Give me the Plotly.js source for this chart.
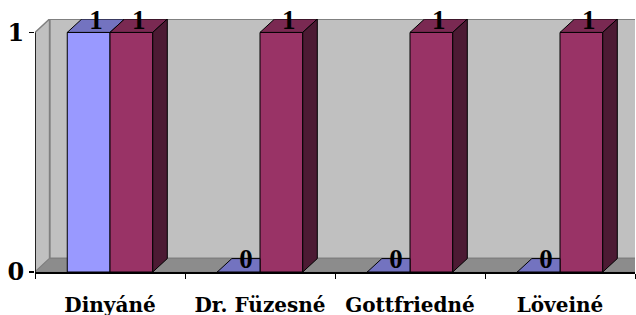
<!DOCTYPE html>
<html>
<head>
<meta charset="utf-8">
<script src="https://cdn.plot.ly/plotly-3.0.1.min.js"></script>
<style>html,body{margin:0;padding:0;background:#fff;}#chart{width:636px;height:315px;}</style>
</head>
<body>
<div id="chart"></div>
<script>
// ---- data ----
const categories = ['Dinyáné', 'Dr. Füzesné', 'Gottfriedné', 'Löveiné'];
const seriesBlue = [1, 0, 0, 0];
const seriesRed = [1, 1, 1, 1];
const yTickVals = [0, 1];
const yTickText = ['0', '1'];

// ---- styling / geometry constants ----
const W = 0.285;     // bar width (category units)
const DX = 0.097;    // 3D depth offset in x (category units)
const DY = 0.056;    // 3D depth offset in y (value units)
const LABEL_DY = 0.044;
const yMax = Math.max(...seriesBlue, ...seriesRed);
const xs = categories.map((c, i) => i);

const col = {
  blueFront: '#9999FF', blueTop: '#7373C0',
  redFront: '#993366', redTop: '#7A2952', redSide: '#4C1A33',
  wall: '#C0C0C0', floor: '#8C8C8C', edge: '#808080'
};

function polys(list) {
  const x = [], y = [];
  list.forEach(p => { p.forEach(pt => { x.push(pt[0]); y.push(pt[1]); }); x.push(p[0][0]); y.push(p[0][1]); x.push(null); y.push(null); });
  return {x, y};
}

const blueTopPolys = [], redTopPolys = [], redSidePolys = [], blueSidePolys = [];
xs.forEach(i => {
  const vb = seriesBlue[i], vr = seriesRed[i];
  const x0 = i - W, x1 = i, x2 = i + W;
  if (vr >= vb + DY) {
    blueTopPolys.push([[x0, vb], [x0 + DX, vb + DY], [x1, vb + DY], [x1, vb]]);
  } else {
    blueTopPolys.push([[x0, vb], [x0 + DX, vb + DY], [x1 + DX, vb + DY], [x1, vb]]);
  }
  if (vr < vb) blueSidePolys.push([[x1, vr], [x1 + DX, vr + DY], [x1 + DX, vb + DY], [x1, vb]]);
  redTopPolys.push([[x1, vr], [x1 + DX, vr + DY], [x2 + DX, vr + DY], [x2, vr]]);
  redSidePolys.push([[x2, 0], [x2 + DX, DY], [x2 + DX, vr + DY], [x2, vr]]);
});

function faceTrace(list, color) {
  const p = polys(list);
  return {type: 'scatter', mode: 'lines', x: p.x, y: p.y, fill: 'toself', fillcolor: color,
    line: {color: '#000', width: 1}, hoverinfo: 'skip', showlegend: false, cliponaxis: false};
}

const traces = [
  {type: 'bar', x: xs, y: seriesBlue, width: W, offset: -W, marker: {color: col.blueFront, line: {color: '#000', width: 1}}, showlegend: false, hoverinfo: 'skip'},
  {type: 'bar', x: xs, y: seriesRed, width: W, offset: 0, marker: {color: col.redFront, line: {color: '#000', width: 1}}, showlegend: false, hoverinfo: 'skip'},
  faceTrace(blueTopPolys, col.blueTop),
  faceTrace(redTopPolys, col.redTop),
  faceTrace(redSidePolys, col.redSide),
  {type: 'scatter', mode: 'text',
    x: xs.map(i => i - W / 2 + DX / 2).concat(xs.map(i => i + W / 2 + DX / 2)),
    y: seriesBlue.map(v => v + LABEL_DY).concat(seriesRed.map(v => v + LABEL_DY)),
    text: seriesBlue.map(String).concat(seriesRed.map(String)),
    textposition: 'middle center', cliponaxis: false,
    textfont: {family: 'Liberation Serif', size: 27, color: '#000', weight: 'bold'},
    hoverinfo: 'skip', showlegend: false}
];
if (blueSidePolys.length) traces.splice(2, 0, faceTrace(blueSidePolys, col.blueTop));

const xLo = -0.5, xHi = categories.length - 0.5;
const shapes = [
  // back wall
  {type: 'rect', layer: 'below', xref: 'x', yref: 'y', x0: xLo + DX, x1: xHi + 1, y0: DY, y1: yMax + DY, fillcolor: col.wall, line: {color: col.edge, width: 2}},
  // left wall
  {type: 'path', layer: 'below', xref: 'x', yref: 'y',
    path: `M ${xLo} 0 L ${xLo} ${yMax} L ${xLo + DX} ${yMax + DY} L ${xLo + DX} ${DY} Z`, fillcolor: col.wall, line: {color: col.edge, width: 1.5}},
  // floor
  {type: 'path', layer: 'below', xref: 'x', yref: 'y',
    path: `M ${xLo} 0 L ${xLo + DX} ${DY} L ${xHi + 1} ${DY} L ${xHi + 1} 0 Z`, fillcolor: col.floor, line: {color: col.edge, width: 1}},
  // front vertical axis line
  {type: 'line', layer: 'above', xref: 'x', yref: 'y', x0: xLo, x1: xLo, y0: 0, y1: yMax, line: {color: '#000', width: 1.5}}
];

const layout = {
  width: 636, height: 315,
  margin: {l: 35, r: 1, t: 19, b: 43},
  paper_bgcolor: '#fff', plot_bgcolor: '#fff',
  showlegend: false,
  barmode: 'overlay',
  xaxis: {
    range: [xLo, xHi], tickmode: 'array', tickvals: xs, ticktext: categories,
    ticks: '', showgrid: false, zeroline: false,
    showline: true, linecolor: '#000', linewidth: 1.5,
    tickfont: {family: 'DejaVu Serif', size: 20, color: '#000', weight: 'bold'},
    minor: {tick0: -0.5, dtick: 1, ticks: 'outside', ticklen: 5, tickcolor: '#000', tickwidth: 1, showgrid: false},
    ticklabelstandoff: 14, fixedrange: true
  },
  yaxis: {
    range: [0, yMax + DY], tickmode: 'array', tickvals: yTickVals, ticktext: yTickText,
    ticks: 'outside', ticklen: 5, tickcolor: '#000', tickwidth: 1.5,
    showgrid: false, zeroline: false, showline: false,
    tickfont: {family: 'DejaVu Serif', size: 24, color: '#000', weight: 'bold'},
    fixedrange: true
  },
  shapes: shapes
};

Plotly.newPlot('chart', traces, layout, {displayModeBar: false, staticPlot: true});
</script>
</body>
</html>
